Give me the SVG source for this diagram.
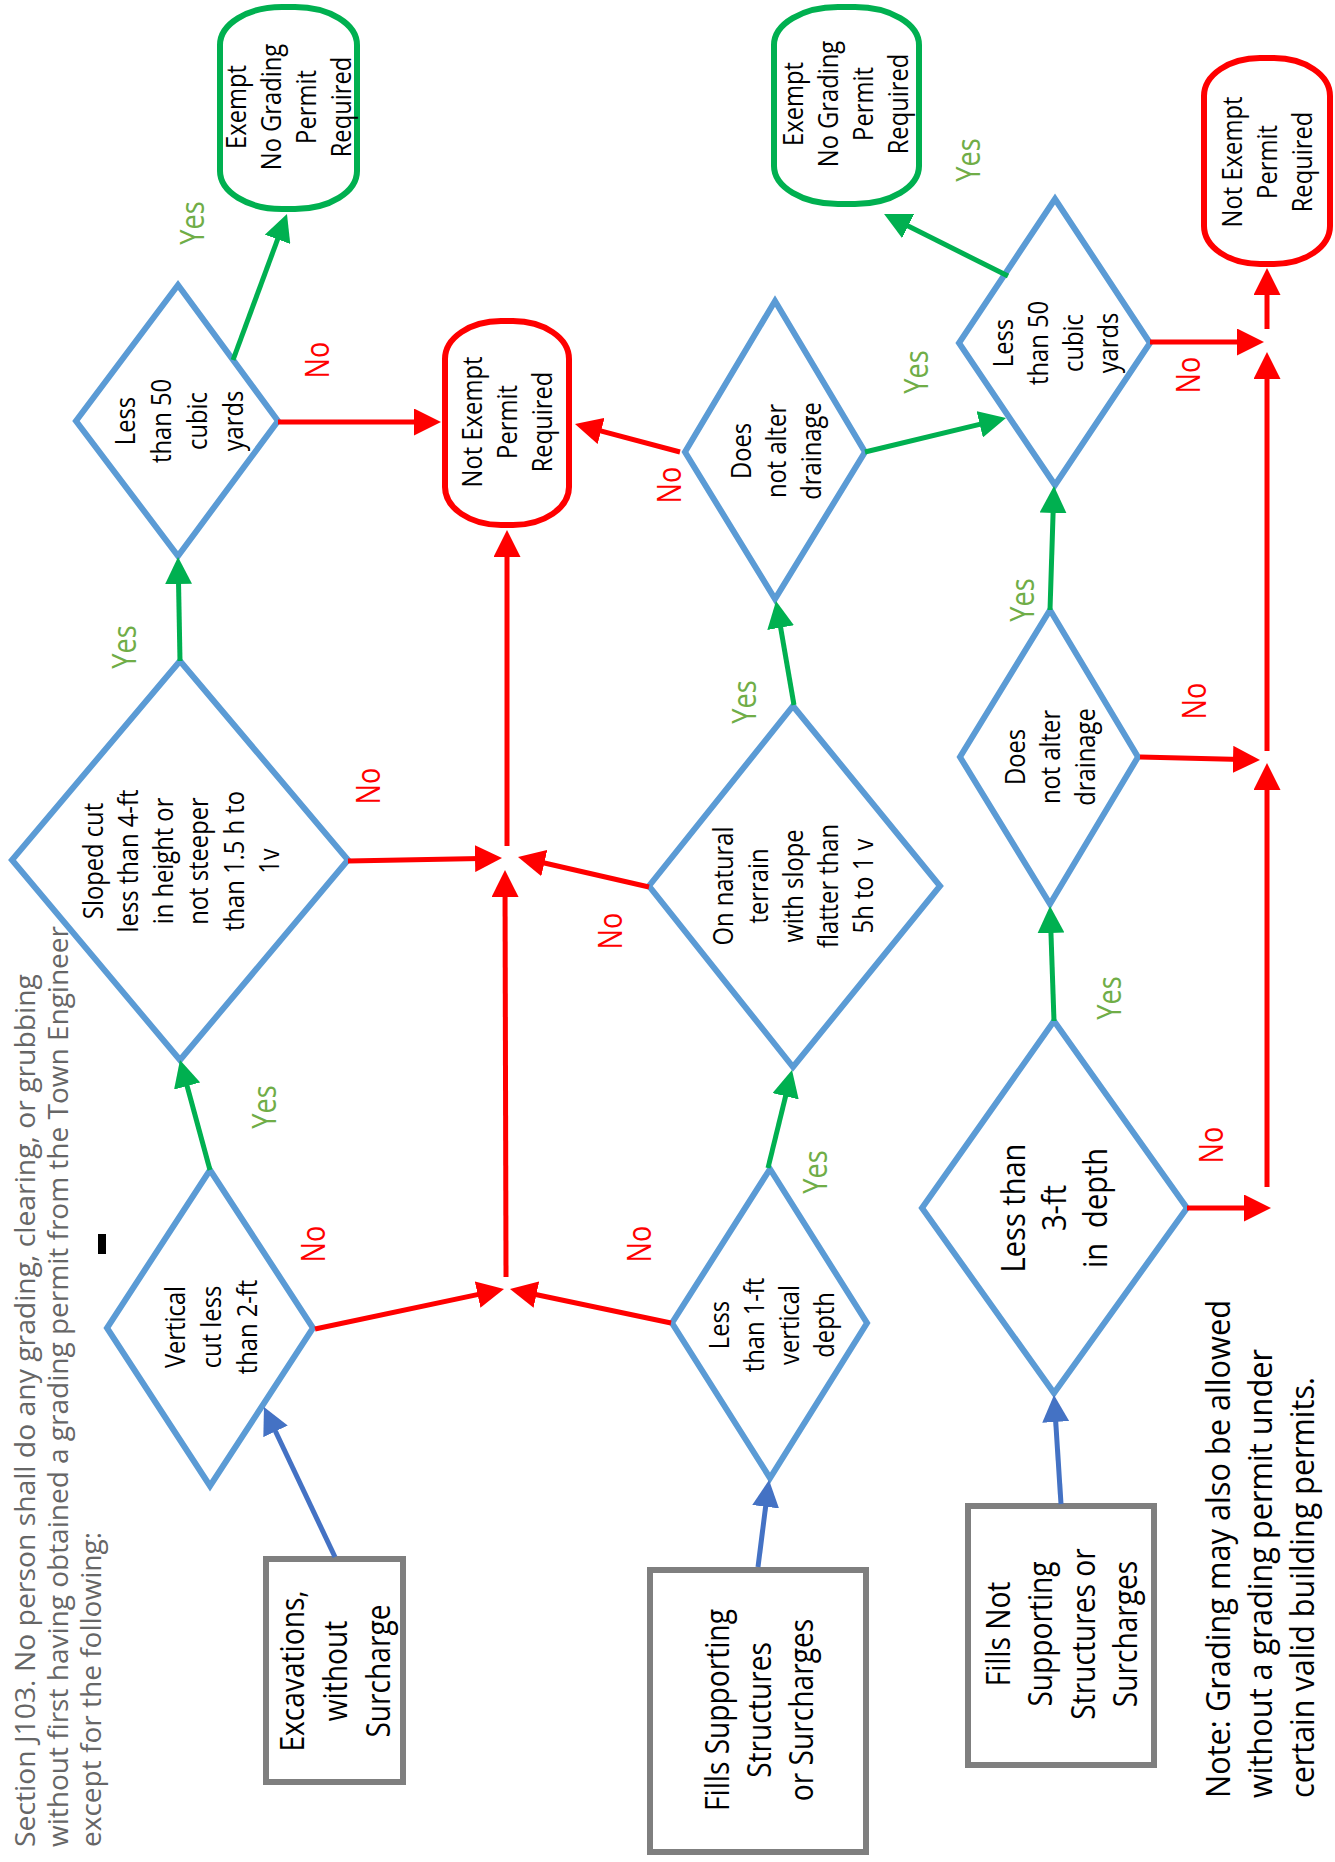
<svg xmlns="http://www.w3.org/2000/svg" width="1335" height="1862" viewBox="0 0 1335 1862">
<style>
.d{fill:#fff;stroke:#5B9BD5;stroke-width:6}
.tg{fill:#fff;stroke:#00B050;stroke-width:6}
.tr{fill:#fff;stroke:#FF0000;stroke-width:6}
.bx{fill:#fff;stroke:#7F7F7F;stroke-width:6}
text{font-family:"Open Sans","Noto Sans","Liberation Sans",sans-serif}
.t{font-size:27px;fill:#000;text-anchor:middle}
.tb{font-size:32px;fill:#000;text-anchor:middle}
.ly{font-size:32px;fill:#70AD47;text-anchor:middle}
.ln{font-size:32px;fill:#FF0000;text-anchor:middle}
.sec{font-size:27px;fill:#666666}
.note{font-size:33px;fill:#000}
.cg{stroke:#00B050;stroke-width:5;fill:none;marker-end:url(#ag)}
.cr{stroke:#FF0000;stroke-width:5;fill:none;marker-end:url(#ar)}
.cb{stroke:#4472C4;stroke-width:5;fill:none;marker-end:url(#ab)}
</style>
<defs>
<marker id="ag" viewBox="0 0 27 27" refX="19" refY="13.5" markerWidth="27" markerHeight="27" markerUnits="userSpaceOnUse" orient="auto"><path d="M0,0 L27,13.5 L0,27 z" fill="#00B050"/></marker>
<marker id="ar" viewBox="0 0 27 27" refX="19" refY="13.5" markerWidth="27" markerHeight="27" markerUnits="userSpaceOnUse" orient="auto"><path d="M0,0 L27,13.5 L0,27 z" fill="#FF0000"/></marker>
<marker id="ab" viewBox="0 0 27 27" refX="19" refY="13.5" markerWidth="27" markerHeight="27" markerUnits="userSpaceOnUse" orient="auto"><path d="M0,0 L27,13.5 L0,27 z" fill="#4472C4"/></marker>
</defs>
<rect width="1335" height="1862" fill="#fff"/>

<g id="section-text">
<text class="sec" transform="translate(0,1847) rotate(-90)" x="0" y="35" textLength="873" lengthAdjust="spacingAndGlyphs">Section J103. No person shall do any grading, clearing, or grubbing</text>
<text class="sec" transform="translate(0,1847) rotate(-90)" x="0" y="68" textLength="921" lengthAdjust="spacingAndGlyphs">without first having obtained a grading permit from the Town Engineer</text>
<text class="sec" transform="translate(0,1847) rotate(-90)" x="0" y="101" textLength="315" lengthAdjust="spacingAndGlyphs">except for the following:</text>
<rect x="98" y="1234" width="8" height="20" fill="#000"/>
</g>

<g id="note-text">
<text class="note" transform="translate(0,1798) rotate(-90)" x="0" y="1230" textLength="498" lengthAdjust="spacingAndGlyphs">Note: Grading may also be allowed</text>
<text class="note" transform="translate(0,1798) rotate(-90)" x="0" y="1272" textLength="449" lengthAdjust="spacingAndGlyphs">without a grading permit under</text>
<text class="note" transform="translate(0,1798) rotate(-90)" x="0" y="1314" textLength="421" lengthAdjust="spacingAndGlyphs">certain valid building permits.</text>
</g>

<g id="box-excavations">
<rect class="bx" x="266" y="1559" width="137" height="223"/>
<text class="tb" transform="translate(0,1671) rotate(-90) scale(0.88,1)"><tspan x="0" y="304">Excavations,</tspan><tspan x="0" y="347">without</tspan><tspan x="0" y="390">Surcharge</tspan></text>
</g>
<g id="box-fills-supporting">
<rect class="bx" x="650" y="1570" width="216" height="282"/>
<text class="tb" transform="translate(0,1710) rotate(-90) scale(0.88,1)"><tspan x="0" y="729">Fills Supporting</tspan><tspan x="0" y="771">Structures</tspan><tspan x="0" y="813">or Surcharges</tspan></text>
</g>
<g id="box-fills-not-supporting">
<rect class="bx" x="968" y="1506" width="186" height="259"/>
<text class="tb" transform="translate(0,1634) rotate(-90) scale(0.88,1)"><tspan x="0" y="1010">Fills Not</tspan><tspan x="0" y="1052">Supporting</tspan><tspan x="0" y="1095">Structures or</tspan><tspan x="0" y="1137">Surcharges</tspan></text>
</g>

<g id="d-vertical-cut">
<polygon class="d" points="210,1170 313,1328 210,1486 107,1328"/>
<text class="t" transform="translate(0,1327) rotate(-90) scale(0.88,1)"><tspan x="0" y="185">Vertical</tspan><tspan x="0" y="221">cut less</tspan><tspan x="0" y="257">than 2-ft</tspan></text>
</g>
<g id="d-sloped-cut">
<polygon class="d" points="180,661 348,860 180,1060 12,860"/>
<text class="t" transform="translate(0,861) rotate(-90) scale(0.88,1)"><tspan x="0" y="103">Sloped cut</tspan><tspan x="0" y="138">less than 4-ft</tspan><tspan x="0" y="173">in height or</tspan><tspan x="0" y="208">not steeper</tspan><tspan x="0" y="244">than 1.5 h to</tspan><tspan x="0" y="279">1v</tspan></text>
</g>
<g id="d-less-50-a">
<polygon class="d" points="178,285 278,421 178,556 76,421"/>
<text class="t" transform="translate(0,421) rotate(-90) scale(0.88,1)"><tspan x="0" y="135">Less</tspan><tspan x="0" y="171">than 50</tspan><tspan x="0" y="207">cubic</tspan><tspan x="0" y="243">yards</tspan></text>
</g>
<g id="t-exempt-a">
<rect class="tg" x="220" y="7" width="137" height="202" rx="62" ry="38"/>
<text class="t" transform="translate(0,107) rotate(-90) scale(0.88,1)"><tspan x="0" y="246">Exempt</tspan><tspan x="0" y="281">No Grading</tspan><tspan x="0" y="316">Permit</tspan><tspan x="0" y="351">Required</tspan></text>
</g>
<g id="t-not-exempt-a">
<rect class="tr" x="445" y="321" width="124" height="204" rx="56" ry="38"/>
<text class="t" transform="translate(0,422) rotate(-90) scale(0.88,1)"><tspan x="0" y="482">Not Exempt</tspan><tspan x="0" y="517">Permit</tspan><tspan x="0" y="552">Required</tspan></text>
</g>
<g id="d-less-1ft">
<polygon class="d" points="770,1169 867,1323 770,1478 672,1323"/>
<text class="t" transform="translate(0,1325) rotate(-90) scale(0.88,1)"><tspan x="0" y="729">Less</tspan><tspan x="0" y="764">than 1-ft</tspan><tspan x="0" y="799">vertical</tspan><tspan x="0" y="834">depth</tspan></text>
</g>
<g id="d-natural-terrain">
<polygon class="d" points="793,706 940,886 793,1067 649,886"/>
<text class="t" transform="translate(0,886) rotate(-90) scale(0.88,1)"><tspan x="0" y="733">On natural</tspan><tspan x="0" y="768">terrain</tspan><tspan x="0" y="803">with slope</tspan><tspan x="0" y="838">flatter than</tspan><tspan x="0" y="873">5h to 1 v</tspan></text>
</g>
<g id="d-drainage-a">
<polygon class="d" points="775,301 865,452 775,599 685,452"/>
<text class="t" transform="translate(0,451) rotate(-90) scale(0.88,1)"><tspan x="0" y="751">Does</tspan><tspan x="0" y="786">not alter</tspan><tspan x="0" y="821">drainage</tspan></text>
</g>
<g id="t-exempt-b">
<rect class="tg" x="774" y="7" width="145" height="197" rx="64" ry="38"/>
<text class="t" transform="translate(0,104) rotate(-90) scale(0.88,1)"><tspan x="0" y="803">Exempt</tspan><tspan x="0" y="838">No Grading</tspan><tspan x="0" y="873">Permit</tspan><tspan x="0" y="908">Required</tspan></text>
</g>
<g id="d-less-3ft">
<polygon class="d" points="1054,1021 1187,1208 1054,1393 922,1208"/>
<text class="t" style="font-size:33px" transform="translate(0,1208) rotate(-90) scale(0.88,1)"><tspan x="0" y="1025">Less than</tspan><tspan x="0" y="1066">3-ft</tspan><tspan x="0" y="1107">in&#160; depth</tspan></text>
</g>
<g id="d-drainage-b">
<polygon class="d" points="1050,610 1138,757 1050,904 960,757"/>
<text class="t" transform="translate(0,757) rotate(-90) scale(0.88,1)"><tspan x="0" y="1025">Does</tspan><tspan x="0" y="1060">not alter</tspan><tspan x="0" y="1095">drainage</tspan></text>
</g>
<g id="d-less-50-b">
<polygon class="d" points="1055,199 1150,343 1055,485 959,343"/>
<text class="t" transform="translate(0,343) rotate(-90) scale(0.88,1)"><tspan x="0" y="1013">Less</tspan><tspan x="0" y="1048">than 50</tspan><tspan x="0" y="1083">cubic</tspan><tspan x="0" y="1118">yards</tspan></text>
</g>
<g id="t-not-exempt-b">
<rect class="tr" x="1204" y="58" width="126" height="206" rx="56" ry="38"/>
<text class="t" transform="translate(0,162) rotate(-90) scale(0.88,1)"><tspan x="0" y="1242">Not Exempt</tspan><tspan x="0" y="1277">Permit</tspan><tspan x="0" y="1312">Required</tspan></text>
</g>

<g id="connectors">
<line class="cg" x1="210" y1="1170" x2="182.1" y2="1067.7"/>
<line class="cg" x1="180" y1="661" x2="178.2" y2="565"/>
<line class="cg" x1="233" y1="360" x2="284.2" y2="221.5"/>
<line class="cr" x1="278" y1="422" x2="433" y2="422"/>
<line class="cr" x1="315" y1="1329" x2="496.2" y2="1290.6"/>
<line class="cr" x1="671" y1="1323" x2="517.8" y2="1290.7"/>
<line class="cr" x1="506" y1="1277" x2="505" y2="878"/>
<line class="cr" x1="348" y1="861" x2="494" y2="858.2"/>
<line class="cr" x1="649" y1="887" x2="525.8" y2="858.8"/>
<line class="cr" x1="507" y1="846" x2="507" y2="538"/>
<line class="cr" x1="680" y1="452" x2="582.7" y2="426.1"/>
<line class="cg" x1="768" y1="1168" x2="790.1" y2="1077.8"/>
<line class="cg" x1="794" y1="705" x2="777.4" y2="608.9"/>
<line class="cg" x1="865" y1="452" x2="998.2" y2="419.9"/>
<line class="cg" x1="1008" y1="276" x2="891.2" y2="217.6"/>
<line class="cr" x1="1150" y1="342" x2="1256" y2="342"/>
<line class="cr" x1="1267" y1="329" x2="1267" y2="276"/>
<line class="cr" x1="1267" y1="751" x2="1267" y2="360"/>
<line class="cr" x1="1140" y1="757" x2="1252" y2="759.8"/>
<line class="cr" x1="1267" y1="1187" x2="1267" y2="771"/>
<line class="cr" x1="1187" y1="1208" x2="1263" y2="1208"/>
<line class="cg" x1="1050" y1="610" x2="1053.7" y2="494"/>
<line class="cg" x1="1054" y1="1021" x2="1050.3" y2="914"/>
<line class="cb" x1="335" y1="1557" x2="267.4" y2="1414.2"/>
<line class="cb" x1="758" y1="1567" x2="768" y2="1487.9"/>
<line class="cb" x1="1061" y1="1504" x2="1054.5" y2="1403"/>
</g>

<g id="labels">
<text class="ly" transform="translate(0,223) rotate(-90) scale(0.85,1)" x="0" y="204">Yes</text>
<text class="ly" transform="translate(0,647) rotate(-90) scale(0.85,1)" x="0" y="136">Yes</text>
<text class="ly" transform="translate(0,1107) rotate(-90) scale(0.85,1)" x="0" y="276">Yes</text>
<text class="ly" transform="translate(0,702) rotate(-90) scale(0.85,1)" x="0" y="756">Yes</text>
<text class="ly" transform="translate(0,1172) rotate(-90) scale(0.85,1)" x="0" y="827">Yes</text>
<text class="ly" transform="translate(0,372) rotate(-90) scale(0.85,1)" x="0" y="928">Yes</text>
<text class="ly" transform="translate(0,160) rotate(-90) scale(0.85,1)" x="0" y="980">Yes</text>
<text class="ly" transform="translate(0,600) rotate(-90) scale(0.85,1)" x="0" y="1034">Yes</text>
<text class="ly" transform="translate(0,998) rotate(-90) scale(0.85,1)" x="0" y="1121">Yes</text>
<text class="ln" transform="translate(0,360) rotate(-90) scale(0.85,1)" x="0" y="329">No</text>
<text class="ln" transform="translate(0,786) rotate(-90) scale(0.85,1)" x="0" y="380">No</text>
<text class="ln" transform="translate(0,1244) rotate(-90) scale(0.85,1)" x="0" y="325">No</text>
<text class="ln" transform="translate(0,1244) rotate(-90) scale(0.85,1)" x="0" y="651">No</text>
<text class="ln" transform="translate(0,931) rotate(-90) scale(0.85,1)" x="0" y="622">No</text>
<text class="ln" transform="translate(0,485) rotate(-90) scale(0.85,1)" x="0" y="681">No</text>
<text class="ln" transform="translate(0,375) rotate(-90) scale(0.85,1)" x="0" y="1200">No</text>
<text class="ln" transform="translate(0,701) rotate(-90) scale(0.85,1)" x="0" y="1206">No</text>
<text class="ln" transform="translate(0,1145) rotate(-90) scale(0.85,1)" x="0" y="1223">No</text>
</g>
</svg>
